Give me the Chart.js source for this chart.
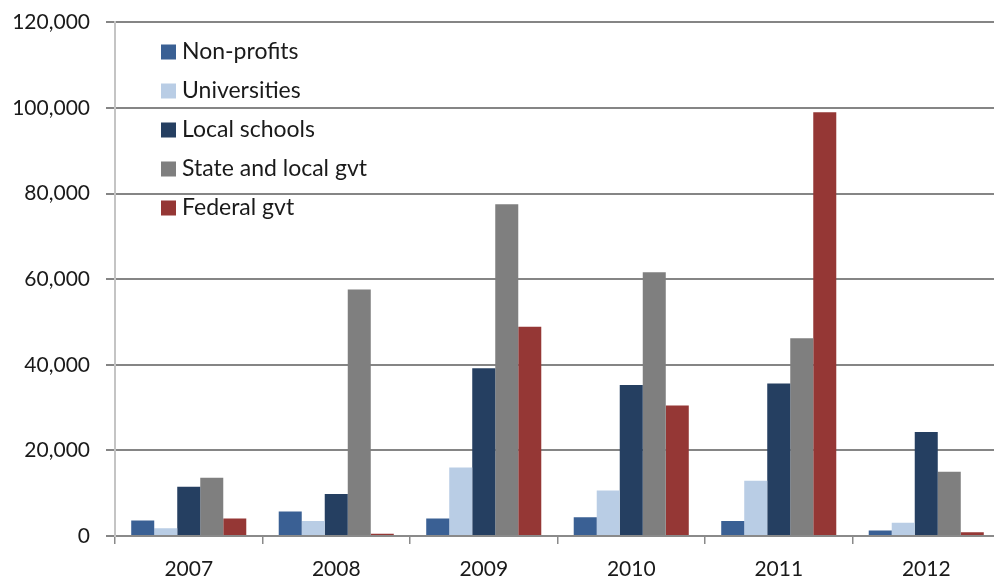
<!DOCTYPE html>
<html>
<head>
<meta charset="utf-8">
<script src="https://cdn.jsdelivr.net/npm/chart.js@4/dist/chart.umd.min.js"></script>
<style>
  html, body { margin: 0; padding: 0; background: #fff; overflow: hidden; }
</style>
</head>
<body>
<canvas id="barChart" width="1000" height="587"></canvas>
<script>
// dati
var years = ["2007", "2008", "2009", "2010", "2011", "2012"];
var seriesNames = ["Non-profits", "Universities", "Local schools", "State and local gvt", "Federal gvt"];
var seriesColors = ["#3A6094", "#B9CDE5", "#253F61", "#7F7F7F", "#953735"];

var nonProfits = [3600, 5700, 4100, 4400, 3500, 1300];
var universities = [1800, 3500, 16000, 10600, 12900, 3100];
var localSchools = [11500, 9800, 39200, 35300, 35600, 24300];
var stateLocal = [13600, 57600, 77500, 61600, 46200, 15000];
var federal = [4100, 500, 48900, 30500, 99000, 900];

var yTicks = [0, 20000, 40000, 60000, 80000, 100000, 120000];

var fontFamily = "Lato, 'Open Sans', sans-serif";
var textColor = "#1a1a1a";

// legenda dentro l'area del grafico, in alto a sinistra
var insideLegend = {
  id: "insideLegend",
  afterDraw: function(chart) {
    var ctx = chart.ctx;
    ctx.save();
    ctx.font = "23px " + fontFamily;
    ctx.textBaseline = "middle";
    ctx.textAlign = "left";
    chart.data.datasets.forEach(function(ds, i) {
      var y = 52 + i * 39;
      ctx.fillStyle = ds.backgroundColor;
      ctx.fillRect(161, y - 7.5, 15, 15);
      ctx.fillStyle = textColor;
      ctx.fillText(ds.label, 182, y);
    });
    ctx.restore();
  }
};

var allData = [nonProfits, universities, localSchools, stateLocal, federal];
var datasets = seriesNames.map(function(name, i) {
  return {
    label: name,
    data: allData[i],
    backgroundColor: seriesColors[i],
    borderWidth: 0,
    categoryPercentage: 0.78,
    barPercentage: 1.0
  };
});

var ctx = document.getElementById("barChart").getContext("2d");
new Chart(ctx, {
  type: "bar",
  data: {
    labels: years,
    datasets: datasets
  },
  options: {
    responsive: false,
    animation: false,
    devicePixelRatio: 1,
    layout: { padding: { top: 22, left: 0, right: 0, bottom: 0 } },
    plugins: {
      legend: { display: false },
      tooltip: { enabled: false }
    },
    scales: {
      x: {
        afterFit: function(scale) { scale.height = 51; },
        grid: {
          display: true,
          offset: true,
          drawOnChartArea: false,
          drawTicks: true,
          tickLength: 8,
          color: "#8a8a8a",
          lineWidth: 1.5
        },
        border: { display: true, color: "#8a8a8a", width: 2 },
        ticks: {
          color: textColor,
          font: { family: fontFamily, size: 21 },
          padding: 13
        }
      },
      y: {
        min: 0,
        max: 120000,
        afterFit: function(scale) { scale.width = 115; },
        afterBuildTicks: function(scale) {
          scale.ticks = yTicks.map(function(v) { return { value: v }; });
        },
        grid: {
          color: "#858585",
          lineWidth: 2,
          tickLength: 9
        },
        border: { display: true, color: "#c4c4c4", width: 2 },
        ticks: {
          color: textColor,
          font: { family: fontFamily, size: 21, lineHeight: 0.6 },
          padding: 16,
          callback: function(v) { return v.toLocaleString("en-US"); }
        }
      }
    }
  },
  plugins: [insideLegend]
});
</script>
</body>
</html>
